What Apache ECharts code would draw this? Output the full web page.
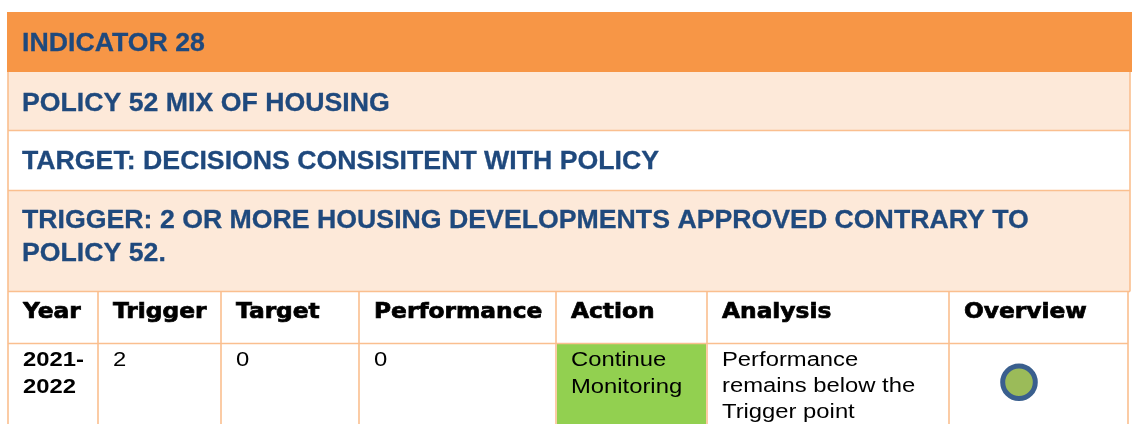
<!DOCTYPE html>
<html><head><meta charset="utf-8">
<script src="https://cdn.jsdelivr.net/npm/echarts@6/dist/echarts.min.js"></script>
<style>html,body{margin:0;padding:0;background:#fff;overflow:hidden}#c{width:1137px;height:424px}</style>
</head><body><div id="c"></div>
<script>
// ---- content ----
const indicatorTitle = 'INDICATOR 28';
const policyTitle = 'POLICY 52 MIX OF HOUSING';
const targetTitle = 'TARGET: DECISIONS CONSISITENT WITH POLICY';
const triggerTitle = ['TRIGGER: 2 OR MORE HOUSING DEVELOPMENTS APPROVED CONTRARY TO', 'POLICY 52.'];
const headers = ['Year', 'Trigger', 'Target', 'Performance', 'Action', 'Analysis', 'Overview'];
const years = [['2021-', '2022']];
const triggerValues = [2];
const targetValues = [0];
const performanceValues = [0];
const actions = [['Continue', 'Monitoring']];
const analyses = [['Performance', 'remains below the', 'Trigger point']];
const overviewStatus = ['green'];

// ---- layout / style ----
const colX = [8, 98, 221, 359, 556, 707, 949, 1128];
const padX = 15;
const BORDER = '#FABF8F';
const ORANGE = '#F79646';
const PEACH = '#FDE9D9';
const BLUE = '#1F497D';
const GREEN_CELL = '#92D050';
const statusColors = { green: '#9BBB59', amber: '#FFC000', red: '#FF0000' };

const els = [];
function rect(x, y, w, h, fill) {
  els.push({ type: 'rect', shape: { x, y, width: w, height: h }, style: { fill }, silent: true });
}
function line(x1, y1, x2, y2) {
  els.push({ type: 'line', shape: { x1, y1, x2, y2 }, style: { stroke: BORDER, lineWidth: 1.6 }, silent: true });
}
function text(str, x, y, font, fill, sx, extra) {
  els.push(Object.assign({
    type: 'text', x, y, scaleX: sx || 1, scaleY: 1,
    style: Object.assign({ text: String(str), x: 0, y: 0, font, fill, align: 'left', verticalAlign: 'middle' }, extra || {}),
    silent: true
  }));
}

// Top banner rows
rect(7, 12, 1125, 60, ORANGE);
rect(8, 72, 1122, 58, PEACH);
rect(8, 191, 1122, 100, PEACH);
line(8, 130.5, 1130, 130.5);
line(8, 190.5, 1130, 190.5);
line(8, 291.5, 1130, 291.5);
line(8, 72, 8, 424);
line(1130, 72, 1130, 291.5);

const titleFont = 'bold 26.7px "Liberation Sans", Arial, sans-serif';
const titleExtra = { stroke: BLUE, lineWidth: 0.3 };
text(indicatorTitle, 22, 43.8, titleFont, BLUE, 1, titleExtra);
text(policyTitle, 22, 103.4, titleFont, BLUE, 1, titleExtra);
text(targetTitle, 22, 161.5, titleFont, BLUE, 1, titleExtra);
triggerTitle.forEach((t, i) => text(t, 22, 221 + i * 32.5, titleFont, BLUE, 1, titleExtra));

// Table
const headerTop = 291.5, headerBottom = 343.5;
const bodyFont = '20px "Liberation Sans", Arial, sans-serif';
const bodyBold = 'bold 20px "Liberation Sans", Arial, sans-serif';
const headFont = 'bold 21px "DejaVu Sans", sans-serif';
const SX = 1.19;

// green action cell
actions.forEach((a, r) => rect(colX[4] + 1, headerBottom + 0.5, colX[5] - colX[4] - 2, 120, GREEN_CELL));

line(8, headerBottom, colX[7], headerBottom);
for (let i = 1; i < colX.length; i++) line(colX[i], headerTop, colX[i], 424);

headers.forEach((h, i) => text(h, colX[i] + padX, 312.2, headFont, '#000', 1.11, { stroke: '#000', lineWidth: 0.7 }));

const firstLine = 360, lh = 27;
years.forEach((ls, r) => ls.forEach((t, i) => text(t, colX[0] + padX, firstLine + i * lh, bodyBold, '#000', SX)));
triggerValues.forEach(v => text(v, colX[1] + padX, firstLine, bodyFont, '#000', SX));
targetValues.forEach(v => text(v, colX[2] + padX, firstLine, bodyFont, '#000', SX));
performanceValues.forEach(v => text(v, colX[3] + padX, firstLine, bodyFont, '#000', SX));
actions.forEach(ls => ls.forEach((t, i) => text(t, colX[4] + padX, firstLine + i * lh, bodyFont, '#000', SX)));
analyses.forEach(ls => ls.forEach((t, i) => text(t, colX[5] + padX, firstLine + i * 26, bodyFont, '#000', SX)));
overviewStatus.forEach(s => {
  els.push({ type: 'circle', shape: { cx: 1019, cy: 382.3, r: 16.3 }, style: { fill: statusColors[s], stroke: '#3A5F8E', lineWidth: 5 }, silent: true });
});

const chart = echarts.init(document.getElementById('c'), null, { renderer: 'canvas' });
chart.setOption({ animation: false, backgroundColor: '#fff', graphic: { elements: els } });
</script>
</body></html>
